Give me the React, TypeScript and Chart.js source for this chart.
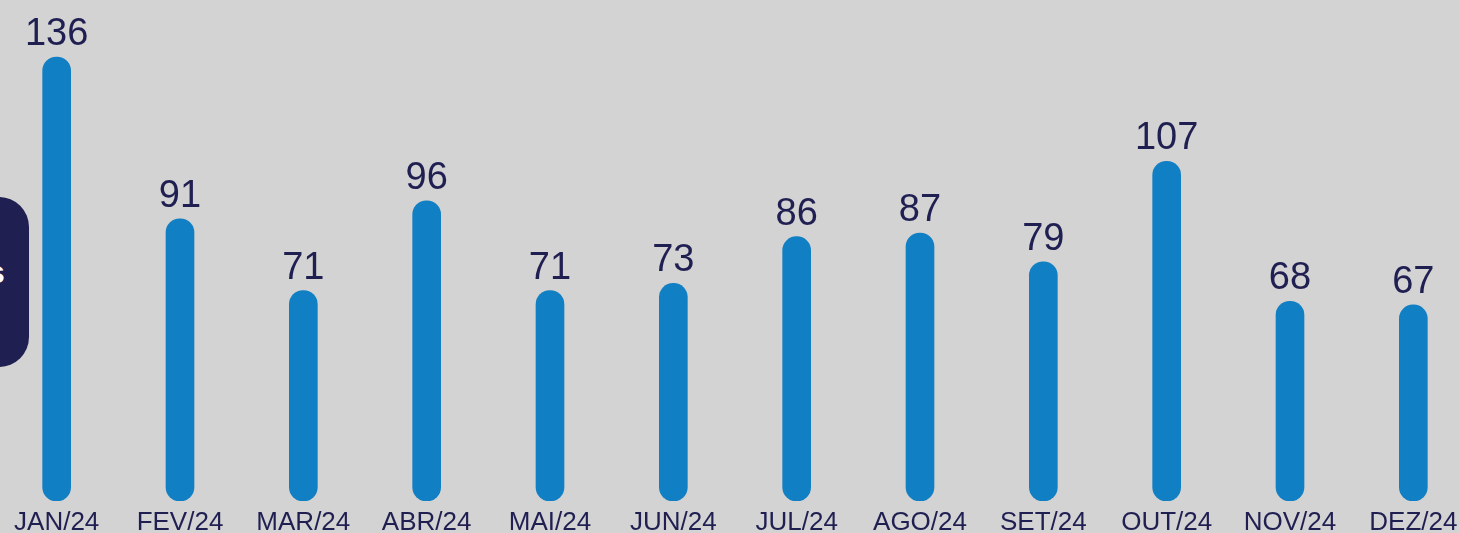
import React, { useEffect, useRef } from "react";
import { Chart, registerables } from "chart.js";

Chart.register(...registerables);

const categories = ["JAN/24", "FEV/24", "MAR/24", "ABR/24", "MAI/24", "JUN/24", "JUL/24", "AGO/24", "SET/24", "OUT/24", "NOV/24", "DEZ/24"];
const values = [136, 91, 71, 96, 71, 73, 86, 87, 79, 107, 68, 67];
const yMin = 12.4;
const yMax = 151.9;

const NAVY = "#201f52";
const BLUE = "#117fc3";
const BG = "#d3d3d3";

const valueLabels = {
  id: "valueLabels",
  afterDatasetsDraw(chart: any) {
    const ctx = chart.ctx;
    const meta = chart.getDatasetMeta(0);
    ctx.save();
    ctx.fillStyle = NAVY;
    ctx.font = "38px 'Liberation Sans', Arial, sans-serif";
    ctx.textAlign = "center";
    ctx.textBaseline = "alphabetic";
    meta.data.forEach((el: any, i: number) => {
      ctx.fillText(String(values[i]), el.x, el.y - 12);
    });
    ctx.restore();
  },
};

export default function App() {
  const ref = useRef<HTMLCanvasElement | null>(null);
  useEffect(() => {
    document.documentElement.style.overflow = "hidden";
    document.body.style.margin = "0";
    document.body.style.background = BG;
    const chart = new Chart(ref.current!, {
      type: "bar",
      data: {
        labels: categories,
        datasets: [
          {
            data: values,
            base: yMin,
            backgroundColor: BLUE,
            borderRadius: 20,
            borderSkipped: false,
            barThickness: 28,
          },
        ],
      },
      options: {
        animation: false,
        responsive: false,
        layout: { padding: 0 },
        plugins: { legend: { display: false }, tooltip: { enabled: false } },
        scales: {
          x: {
            grid: { display: false, drawTicks: false },
            border: { display: false },
            afterFit: (scale: any) => {
              scale.height = 32;
            },
            ticks: {
              color: NAVY,
              font: { family: "'Liberation Sans', Arial, sans-serif", size: 26, lineHeight: 0.8 },
              padding: 11,
              maxRotation: 0,
              autoSkip: false,
            },
          },
          y: { display: false, min: yMin, max: yMax },
        },
      },
      plugins: [valueLabels],
    });
    return () => chart.destroy();
  }, []);
  return (
    <div style={{ position: "fixed", left: 0, top: 0, width: 1459, height: 533, background: BG, overflow: "hidden" }}>
      <canvas ref={ref} width={1480} height={533} style={{ position: "absolute", left: -5, top: 0, width: 1480, height: 533 }} />
      <div
        style={{
          position: "absolute",
          left: -40,
          top: 197,
          width: 69,
          height: 170,
          borderRadius: 30,
          background: NAVY,
        }}
      />
      <div
        style={{
          position: "absolute",
          left: -13,
          top: 256,
          lineHeight: "32px",
          fontSize: 32,
          fontWeight: "bold",
          color: "#ffffff",
          fontFamily: "'Liberation Sans', Arial, sans-serif",
        }}
      >
        s
      </div>
    </div>
  );
}
